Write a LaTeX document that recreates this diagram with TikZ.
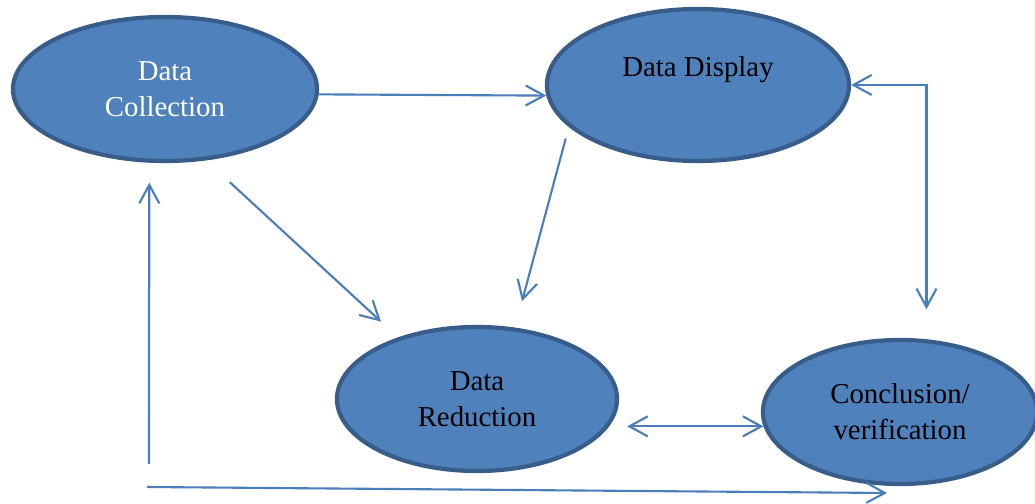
\documentclass[tikz,border=0pt]{standalone}
\usepackage{fontspec}
\setmainfont{Liberation Serif}
\usepackage{tikz}
\usetikzlibrary{arrows.meta,shapes.geometric}
\definecolor{ovalfill}{HTML}{4F81BD}
\definecolor{ovalline}{HTML}{385D8A}
\definecolor{flowline}{HTML}{4A7EBB}

\begin{document}
\begin{tikzpicture}[x=0.025cm, y=-0.025cm,
  oval/.style={draw=ovalline, fill=ovalfill, ellipse, line width=3pt, inner sep=0pt,
    align=center, font=\fontsize{20.5}{25.6}\selectfont},
  flow/.style={draw=flowline, line width=1.5pt, -{Straight Barb[length=0.46cm,width=0.5cm]}},
  flowboth/.style={draw=flowline, line width=1.5pt,
    {Straight Barb[length=0.46cm,width=0.5cm]}-{Straight Barb[length=0.46cm,width=0.5cm]}}]
\useasboundingbox (0,0) rectangle (1035,504);

\node[oval, minimum width=7.6cm, minimum height=3.6cm, text=white](coll) at (165,89) {Data\\Collection};
\node[oval, minimum width=7.55cm, minimum height=3.8cm](disp) at (698,85) {Data Display\\\mbox{}};
\node[oval, minimum width=7.0cm, minimum height=3.6cm](red) at (477,399) {Data\\Reduction};
\node[oval, minimum width=6.85cm, minimum height=3.6cm](conc) at (900,412) {Conclusion/\\verification};

\coordinate (loopup) at (149,464);
\coordinate (loopst) at (147,487);
\coordinate (loopend) at (887,493);

\draw[flow](coll.-2) to (disp.184);
\draw[flow, shorten <=0.8cm, shorten >=0.58cm](coll.-60) to (red.142);
\draw[flow, shorten <=0.3cm, shorten >=0.68cm](disp.198) to (red.62);
\draw[flowboth, shorten >=0.75cm](disp.east) -| (conc.70);
\draw[flowboth]([xshift=0.2cm]red.east |- conc.186) to (conc.186);
\draw[flow, shorten >=0.5cm](loopup) to (coll.258);
\draw[flow](loopst) to (loopend);
\end{tikzpicture}
\end{document}
